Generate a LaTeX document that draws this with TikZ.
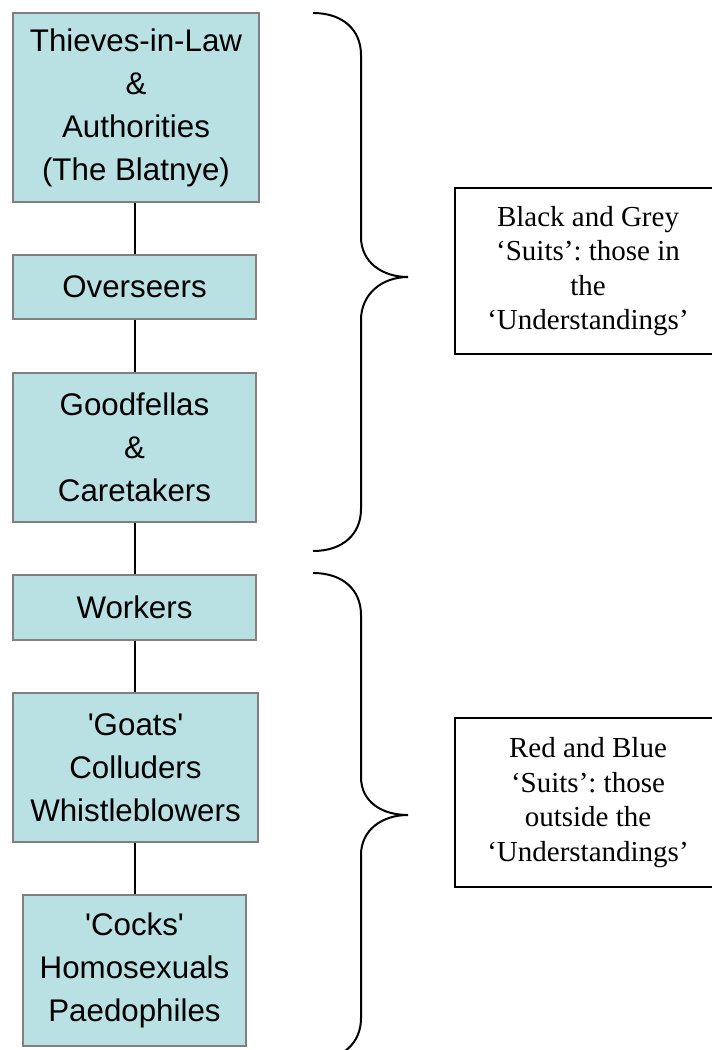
\documentclass[tikz,border=0pt]{standalone}
\usepackage{fontspec}
\setmainfont{Liberation Serif}
\newfontfamily\arialfont{Liberation Sans}
\definecolor{boxfill}{RGB}{185,224,227}
\definecolor{boxline}{RGB}{128,128,128}
\frenchspacing
\begin{document}
\begin{tikzpicture}[x=1pt,y=-1pt,
  rank/.style={draw=boxline, line width=2pt, fill=boxfill, align=center,
    inner sep=0pt, font=\arialfont\fontsize{31.3}{43}\selectfont},
  note/.style={draw=black, line width=1.6pt, fill=white, align=center,
    inner sep=0pt, font=\frenchspacing\fontsize{29}{34.5}\selectfont},
  link/.style={draw=black, line width=2pt},
  bracestyle/.style={draw=black, line width=2pt}]
\useasboundingbox (0,0) rectangle (712,1050);
\begin{scope}
\clip (0,0) rectangle (712,1050);
% rank boxes
\node[rank, minimum width=246pt, minimum height=189pt] (b1) at (136,107.5)
  {Thieves-in-Law\\\&\\Authorities\\(The Blatnye)};
\node[rank, minimum width=243pt, minimum height=64pt] (b2) at (134.5,287) {Overseers};
\node[rank, minimum width=243pt, minimum height=149pt] (b3) at (134.5,447.5)
  {Goodfellas\\\&\\Caretakers};
\node[rank, minimum width=243pt, minimum height=65pt] (b4) at (134.5,607.5) {Workers};
\node[rank, minimum width=245pt, minimum height=149pt] (b5) at (135.5,767.5)
  {'Goats'\\Colluders\\Whistleblowers};
\node[rank, minimum width=223pt, minimum height=151pt] (b6) at (134.5,970.5)
  {'Cocks'\\Homosexuals\\Paedophiles};
% connectors
\coordinate (cx) at (135,0);
\draw[link] (b1.south -| cx) -- (b2.north -| cx);
\draw[link] (b2.south -| cx) -- (b3.north -| cx);
\draw[link] (b3.south -| cx) -- (b4.north -| cx);
\draw[link] (b4.south -| cx) -- (b5.north -| cx);
\draw[link] (b5.south -| cx) -- (b6.north -| cx);
% braces
\draw[bracestyle] (313,13) .. controls (343,13) and (361,30) .. (361,55)
  -- (361,237) .. controls (361,262) and (382,277) .. (408,277)
  .. controls (382,277) and (361,294) .. (361,320)
  -- (361,509) .. controls (361,534) and (343,551) .. (313,551);
\draw[bracestyle] (313,573) .. controls (343,573) and (361,590) .. (361,615)
  -- (361,777) .. controls (361,802) and (382,815) .. (408,815)
  .. controls (382,815) and (361,830) .. (361,855)
  -- (361,1018) .. controls (361,1043) and (343,1060) .. (313,1060);
% notes
\node[note, minimum width=266pt, minimum height=166pt] (n1) at (588,271)
  {Black and Grey\\‘Suits’: those in\\the\\‘Understandings’};
\node[note, minimum width=266pt, minimum height=169pt] (n2) at (588,802.5)
  {Red and Blue\\‘Suits’: those\\outside the\\‘Understandings’};
\end{scope}
\end{tikzpicture}
\end{document}
